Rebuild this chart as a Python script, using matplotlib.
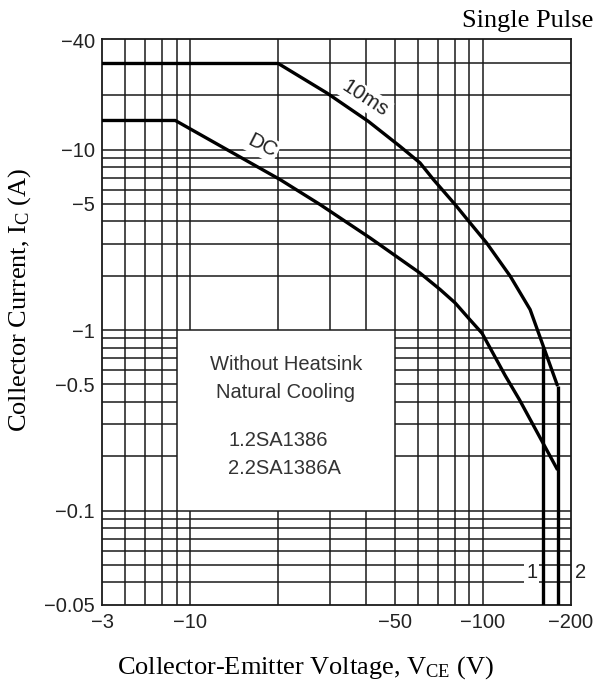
import matplotlib
matplotlib.use("Agg")
import matplotlib.pyplot as plt
from matplotlib.ticker import NullLocator

# ---------------- data ----------------
# 10 ms single-pulse SOA boundary (|VCE| in V, |IC| in A)
v_10ms = [5, 20, 29.3, 40.6, 52.1, 61, 67.8, 80.4, 90.4, 103, 124, 145, 180]
i_10ms = [30, 30, 20.6, 14.35, 10.43, 8.44, 6.82, 4.96, 3.93, 3.04, 1.99, 1.30, 0.49]
# DC SOA boundary
v_dc = [5, 8.9, 20.3, 27.8, 41.2, 61, 71.4, 80.4, 90.4, 99.4, 119.2, 133.5, 180]
i_dc = [14.5, 14.5, 6.82, 4.96, 3.24, 2.07, 1.68, 1.415, 1.14, 0.96, 0.56, 0.41, 0.168]
# VCEO limits: 1 = 2SA1386, 2 = 2SA1386A
v_limit = [160, 180]
i_limit_top = [0.8, 0.49]
limit_names = ["1", "2"]

# axis ticks / labels as printed on the chart
x_ticks = [5, 10, 50, 100, 200]
x_ticklabels = ["\u22123", "\u221210", "\u221250", "\u2212100", "\u2212200"]
y_ticks = [40, 10, 5, 1, 0.5, 0.1, 0.03]
y_ticklabels = ["\u221240", "\u221210", "\u22125", "\u22121", "\u22120.5", "\u22120.1", "\u22120.05"]

# grid values
x_grid = [6, 7, 8, 9, 10, 20, 30, 40, 50, 60, 70, 80, 90, 100]
y_grid = [0.04, 0.05, 0.06, 0.07, 0.08, 0.09, 0.1,
          0.2, 0.3, 0.4, 0.5, 0.6, 0.7, 0.8, 0.9, 1,
          2, 3, 4, 5, 6, 7, 8, 9, 10, 20, 30]

x_range = (5, 200)
y_range = (0.03, 41)
box_x = (9, 50)     # cleared region holding the note
box_y = (0.1, 1)

note_lines = ["Without Heatsink", "Natural Cooling"]
part_lines = ["1.2SA1386", "2.2SA1386A"]

# ---------------- figure ----------------
SANS = "Liberation Sans"
SERIF = "Liberation Serif"
plt.rcParams["mathtext.fontset"] = "custom"
plt.rcParams["mathtext.rm"] = SERIF
plt.rcParams["mathtext.it"] = SERIF + ":italic"

W, H = 596, 688
fig = plt.figure(figsize=(W / 100, H / 100), dpi=100)
ax = fig.add_axes([102 / W, 1 - 605 / H, 469 / W, 566 / H])
ax.set_xscale("log")
ax.set_yscale("log")
ax.set_xlim(*x_range)
ax.set_ylim(*y_range)

grid_kw = dict(color="#1a1a1a", lw=1.1, zorder=1)
for xv in x_grid:
    if box_x[0] < xv < box_x[1]:
        ax.vlines(xv, y_range[0], box_y[0], **grid_kw)
        ax.vlines(xv, box_y[1], y_range[1], **grid_kw)
    else:
        ax.vlines(xv, y_range[0], y_range[1], **grid_kw)
for yv in y_grid:
    if box_y[0] < yv < box_y[1]:
        ax.hlines(yv, x_range[0], box_x[0], **grid_kw)
        ax.hlines(yv, box_x[1], x_range[1], **grid_kw)
    else:
        ax.hlines(yv, x_range[0], x_range[1], **grid_kw)

curve_kw = dict(color="black", lw=2.4, solid_capstyle="butt", solid_joinstyle="round", zorder=4)
ax.plot(v_10ms, i_10ms, **curve_kw)
ax.plot(v_dc, i_dc, **curve_kw)
for v, itop in zip(v_limit, i_limit_top):
    ax.plot([v, v], [itop, y_range[0]], **curve_kw)

white = dict(facecolor="white", edgecolor="none", pad=1.5)
ax.text(39.6, 19.2, "10ms", rotation=-33, ha="center", va="center",
        fontsize=15, family=SANS, color="#222222", bbox=white, zorder=3)
ax.text(17.6, 10.5, "DC", rotation=-27, ha="center", va="center",
        fontsize=15, family=SANS, color="#222222", bbox=white, zorder=3)
ax.text(147, 0.0454, limit_names[0], ha="center", va="center",
        fontsize=14.5, family=SANS, color="#222222", bbox=white, zorder=3)
ax.text(215, 0.0454, limit_names[1], ha="center", va="center",
        fontsize=14.5, family=SANS, color="#222222", zorder=3, clip_on=False)

# note inside the cleared box
fig.text(286 / W, 1 - 364 / H, note_lines[0], ha="center", va="center",
         fontsize=14.5, family=SANS, color="#333333")
fig.text(286 / W, 1 - 392 / H, note_lines[1], ha="center", va="center",
         fontsize=14.5, family=SANS, color="#333333")
fig.text(228 / W, 1 - 441 / H, part_lines[0], ha="left", va="center",
         fontsize=14.5, family=SANS, color="#333333")
fig.text(228 / W, 1 - 469 / H, part_lines[1], ha="left", va="center",
         fontsize=14.5, family=SANS, color="#333333")

ax.set_xticks(x_ticks)
ax.set_xticklabels(x_ticklabels)
ax.set_yticks(y_ticks)
ax.set_yticklabels(y_ticklabels)
ax.xaxis.set_minor_locator(NullLocator())
ax.yaxis.set_minor_locator(NullLocator())
ax.tick_params(axis="both", length=0, labelsize=14.5, colors="#222222")
ax.tick_params(axis="x", pad=6)
ax.tick_params(axis="y", pad=5)
for lab in ax.get_xticklabels() + ax.get_yticklabels():
    lab.set_family(SANS)

for s in ax.spines.values():
    s.set_linewidth(1.3)
    s.set_color("#1a1a1a")

fig.text(20 / W, 1 - 300 / H, r"Collector Current, I$_{\mathrm{C}}$ (A)", rotation=90,
         ha="center", va="center", fontsize=19, family=SERIF)
fig.text(305 / W, 1 - 668 / H, r"Collector-Emitter Voltage, V$_{\mathrm{CE}}$ (V)",
         ha="center", va="center", fontsize=19, family=SERIF)
fig.text(593 / W, 1 - 21 / H, "Single Pulse", ha="right", va="center",
         fontsize=19, family=SERIF)

fig.savefig("out.png", dpi=100, facecolor="white")
